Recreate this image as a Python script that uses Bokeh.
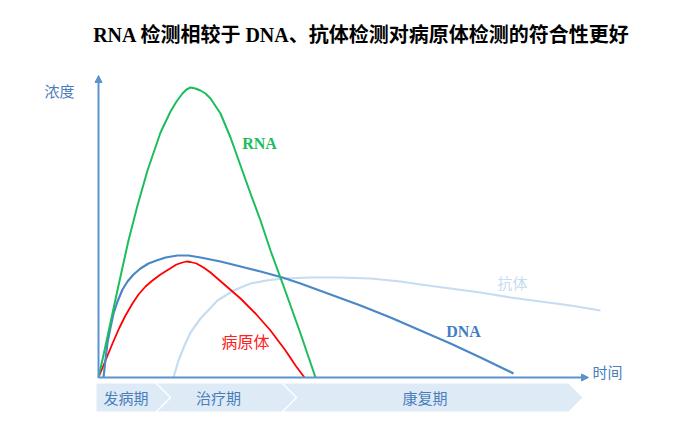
from bokeh.plotting import figure
from bokeh.models import Range1d, Arrow, NormalHead
from bokeh.core.properties import value
from bokeh.embed import file_html
from bokeh.resources import INLINE

# ---- data (time, concentration) ----
rna_t = [0, 6, 12, 20, 30, 39, 49, 62, 72, 78, 84, 88, 92, 97, 102, 107, 112, 122, 132, 142, 152, 162, 172, 187, 202, 217]
rna_c = [0, 27, 55, 92, 137, 172, 207, 245, 266, 276, 284, 288, 290, 289, 287, 284, 279, 264, 240, 212, 184, 157, 127, 86, 44, 0]

dna_t = [5, 7, 9, 12, 15, 19, 24, 29, 35, 42, 50, 58, 67, 79, 90, 102, 122, 142, 162, 184, 202, 232, 262, 292, 322, 352, 382, 415]
dna_c = [0, 18, 35, 50, 64, 76, 88, 96, 103, 109, 114, 117, 120, 122, 122, 120, 116, 111, 106, 100, 94, 83, 72, 60, 47, 34, 20, 4]

path_t = [0, 7, 14, 21, 27, 34, 40, 47, 54, 62, 70, 78, 84, 88, 92, 98, 105, 112, 127, 142, 157, 172, 187, 197, 206]
path_c = [0, 17, 34, 50, 62, 74, 83, 91, 97, 103, 108, 113, 115, 116, 115.5, 114, 110, 105, 92, 79, 64, 47, 27, 12, 0]

ab_t = [75, 80, 86, 92, 102, 119, 135, 152, 168, 185, 212, 242, 272, 302, 322, 352, 382, 412, 442, 472, 502]
ab_c = [0, 17, 32, 45, 59, 77, 87, 94, 97, 99, 100, 100, 99, 96, 93, 89, 85, 80, 76, 72, 67]

phases = ["发病期", "治疗期", "康复期"]
phase_bounds = [-2, 57, 183, 470]

title = "RNA 检测相较于 DNA、抗体检测对病原体检测的符合性更好"

# ---- figure: origin of the axes sits at pixel (98, 377) ----
W, H = 690, 430
p = figure(width=W, height=H, output_backend="svg", toolbar_location=None,
           x_range=Range1d(-98, W - 98), y_range=Range1d(-(H - 377), 377),
           min_border=0)
p.axis.visible = False
p.grid.visible = False
p.outline_line_color = None
p.background_fill_color = "white"

# phase chevrons
tip, gap, y0, y1 = 14, 2, -6, -34
xs, ys = [], []
for i in range(len(phases)):
    a, b = phase_bounds[i], phase_bounds[i + 1]
    ym = (y0 + y1) / 2
    if i == 0:
        px = [a, b, b + tip, b, a]
        py = [y0, y0, ym, y1, y1]
    else:
        px = [a + gap, b, b + tip, b, a + gap, a + gap + tip]
        py = [y0, y0, ym, y1, y1, ym]
    xs.append(px)
    ys.append(py)
p.patches(xs, ys, fill_color="#deebf7", line_color=None)
centers = [(phase_bounds[i] + phase_bounds[i + 1]) / 2 for i in range(len(phases))]
p.text(x=centers, y=[(y0 + y1) / 2] * 3, text=phases, text_align="center",
       text_baseline="middle", text_font=value("Noto Sans CJK SC"),
       text_font_size="15px", text_color="#4a7ebb")

# curves
p.line(ab_t, ab_c, line_color="#c5dcf1", line_width=2.2, line_join="round")
p.line(path_t, path_c, line_color="#ff0000", line_width=1.8, line_join="round")
p.line(dna_t, dna_c, line_color="#4a87c7", line_width=2.2, line_join="round")
p.line(rna_t, rna_c, line_color="#1cbd5c", line_width=2.0, line_join="round")

# axes with arrows
axc = "#5b93cf"
p.add_layout(Arrow(end=NormalHead(size=7, fill_color=axc, line_color=axc),
                   x_start=0, y_start=0, x_end=0, y_end=302,
                   line_color=axc, line_width=2))
p.add_layout(Arrow(end=NormalHead(size=7, fill_color=axc, line_color=axc),
                   x_start=0, y_start=0, x_end=490, y_end=0,
                   line_color=axc, line_width=2))

# labels
p.text(x=[-39], y=[287], text=["浓度"], text_align="center", text_baseline="middle",
       text_font=value("Noto Sans CJK SC"), text_font_size="15px", text_color="#4a7ebb")
p.text(x=[509], y=[6], text=["时间"], text_align="center", text_baseline="middle",
       text_font=value("Noto Sans CJK SC"), text_font_size="15px", text_color="#4a7ebb")
p.text(x=[161], y=[234], text=["RNA"], text_align="center", text_baseline="middle",
       text_font=value("Liberation Serif"), text_font_style="bold",
       text_font_size="16px", text_color="#1cbd5c")
p.text(x=[365], y=[46], text=["DNA"], text_align="center", text_baseline="middle",
       text_font=value("Liberation Serif"), text_font_style="bold",
       text_font_size="16px", text_color="#3f7fc2")
p.text(x=[414], y=[95], text=["抗体"], text_align="center", text_baseline="middle",
       text_font=value("Noto Sans CJK SC"), text_font_size="15px", text_color="#c5dcf1")
p.text(x=[147], y=[37], text=["病原体"], text_align="center", text_baseline="middle",
       text_font=value("Noto Sans CJK SC"), text_font_size="16px", text_color="#ff2020")

# title
p.text(x=[263], y=[343], text=[title], text_align="center", text_baseline="middle",
       text_font=value("Liberation Serif, Noto Sans CJK SC"), text_font_style="bold",
       text_font_size="20px", text_color="#000000")

open("out.html", "w").write(file_html(p, INLINE))
